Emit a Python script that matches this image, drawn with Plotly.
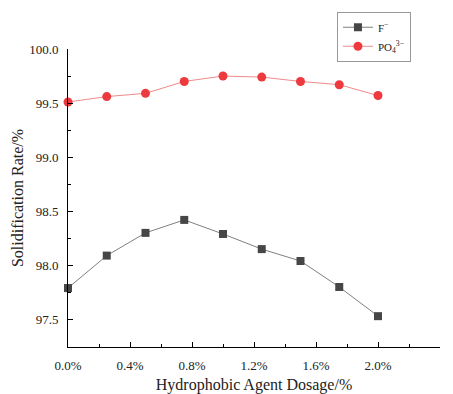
import plotly.graph_objects as go

dosage = [0.0, 0.25, 0.5, 0.75, 1.0, 1.25, 1.5, 1.75, 2.0]
f_rate = [97.79, 98.09, 98.30, 98.42, 98.29, 98.15, 98.04, 97.80, 97.53]
po4_rate = [99.51, 99.56, 99.59, 99.70, 99.75, 99.74, 99.70, 99.67, 99.57]
x_ticks = [0.0, 0.4, 0.8, 1.2, 1.6, 2.0, 2.4]
x_tick_labels = ["0.0%", "0.4%", "0.8%", "1.2%", "1.6%", "2.0%", "2.4%"]
y_ticks = [97.5, 98.0, 98.5, 99.0, 99.5, 100.0]

FONT = "Liberation Serif, Times New Roman, serif"

fig = go.Figure()
fig.add_trace(go.Scatter(
    x=dosage, y=f_rate, name="F<sup>−</sup>", mode="lines+markers",
    line=dict(color="#7f7f7f", width=1),
    marker=dict(symbol="square", size=8, color="#464646"),
    cliponaxis=False,
))
fig.add_trace(go.Scatter(
    x=dosage, y=po4_rate, name="PO<sub>4</sub><sup>3−</sup>", mode="lines+markers",
    line=dict(color="#f08a8a", width=1),
    marker=dict(symbol="circle", size=9, color="#ec3a3e"),
    cliponaxis=False,
))

axis_common = dict(
    showgrid=False, zeroline=False, showline=True, linecolor="black", linewidth=1,
    ticks="inside", tickcolor="black", tickwidth=1, ticklen=5,
    tickfont=dict(family=FONT, size=13, color="#222"),
    minor=dict(ticks="inside", ticklen=3, tickcolor="black", tickwidth=1),
    automargin=False,
)

fig.update_xaxes(
    range=[0, 2.4], tickvals=x_ticks, ticktext=x_tick_labels,
    title=dict(text="Hydrophobic Agent Dosage/%", font=dict(family=FONT, size=16, color="#222"), standoff=9),
    minor_dtick=0.2, minor_tick0=0, ticklabelstandoff=6,
    **axis_common,
)
fig.update_yaxes(
    range=[97.245, 100.0], tickvals=y_ticks, tickformat=".1f",
    title=dict(text="Solidification Rate/%", font=dict(family=FONT, size=16, color="#222"), standoff=1),
    minor_dtick=0.25, minor_tick0=0, ticklabelstandoff=6,
    **axis_common,
)

fig.update_layout(
    width=453, height=394,
    margin=dict(l=68, r=13, t=45, b=47),
    paper_bgcolor="white", plot_bgcolor="white",
    font=dict(family=FONT, size=13, color="#222"),
    legend=dict(
        x=0.723, y=1.125, xanchor="left", yanchor="top",
        bordercolor="#999", borderwidth=1, bgcolor="white",
        font=dict(family=FONT, size=11), tracegroupgap=0,
        itemwidth=30,
    ),
)

fig.write_html("out.html")
